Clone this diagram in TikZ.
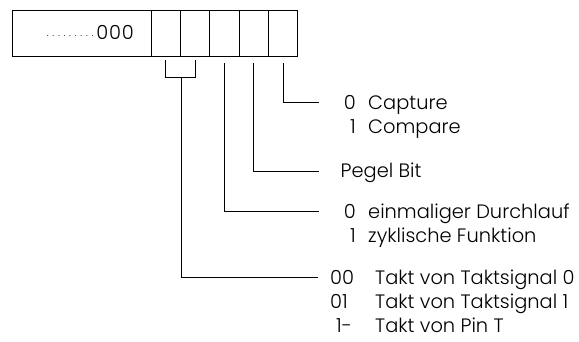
\documentclass[tikz,border=0pt]{standalone}
\usepackage{fontspec}
\setmainfont{Poppins Light}
\newcommand\mydot{\makebox[5.6pt]{\fontsize{10pt}{10pt}\selectfont\textperiodcentered}}
\begin{document}
\begin{tikzpicture}[x=1pt,y=-1pt,
  box/.style={draw,line width=0.9pt,inner sep=0pt,minimum height=45.3pt},
  cell/.style={box,minimum width=29.35pt},
  lbl/.style={anchor=base west,inner sep=0pt,font=\fontsize{19.4pt}{22pt}\selectfont},
  conn/.style={line width=0.9pt}]
\useasboundingbox (0,0) rectangle (579,341);
\node[box,minimum width=138.3pt] (big) at (81.85,33.35) {};
\node[cell] (c1) at (165.68,33.35) {};
\node[cell] (c2) at (195.03,33.35) {};
\node[cell] (c3) at (224.38,33.35) {};
\node[cell] (c4) at (253.73,33.35) {};
\node[cell] (c5) at (283.08,33.35) {};
\node[lbl,anchor=base east] (val) at (134,39.5) {\mydot\mydot\mydot\mydot\mydot\mydot\mydot\mydot\mydot\kern1pt 0\kern0.8pt0\kern0.8pt0};
% labels
\node[lbl,anchor=base east] (d0a) at (356,109) {0};
\node[lbl] (cap) at (368,109) {Capture};
\node[lbl,anchor=base east] (d1a) at (356,133.5) {1};
\node[lbl] (cmp) at (368,133.5) {Compare};
\node[lbl] (peg) at (340.5,177.5) {Pegel Bit};
\node[lbl,anchor=base east] (d0b) at (356,218) {0};
\node[lbl] (ein) at (368,218) {einmaliger Durchlauf};
\node[lbl,anchor=base east] (d1b) at (356,242.5) {1};
\node[lbl] (zyk) at (368,242.5) {zyklische Funktion};
\node[lbl] (d00) at (330,284) {00};
\node[lbl] (t0) at (375,284) {Takt von Taktsignal 0};
\node[lbl] (d01) at (330,308) {01};
\node[lbl] (t1) at (375,308) {Takt von Taktsignal 1};
\node[lbl] (d1m) at (336,332) {1-};
\node[lbl] (tp) at (375,332) {Takt von Pin T};
% connector ends
\coordinate (e1) at (319.3,102.3);
\coordinate (e2) at (319.3,171);
\coordinate (e3) at (319.3,211.7);
\coordinate (e4) at (318,277.3);
\coordinate (br) at (181,77);
% connectors
\draw[conn] ([yshift=-7pt]c5.south) |- (e1);
\draw[conn] ([yshift=-7pt]c4.south) |- (e2);
\draw[conn] ([yshift=-7pt]c3.south) |- (e3);
\draw[conn] ([yshift=-4pt]c1.south) -- (c1.south |- br) -- (c2.south |- br) -- ([yshift=-4pt]c2.south);
\draw[conn] (br) |- (e4);
\end{tikzpicture}
\end{document}
